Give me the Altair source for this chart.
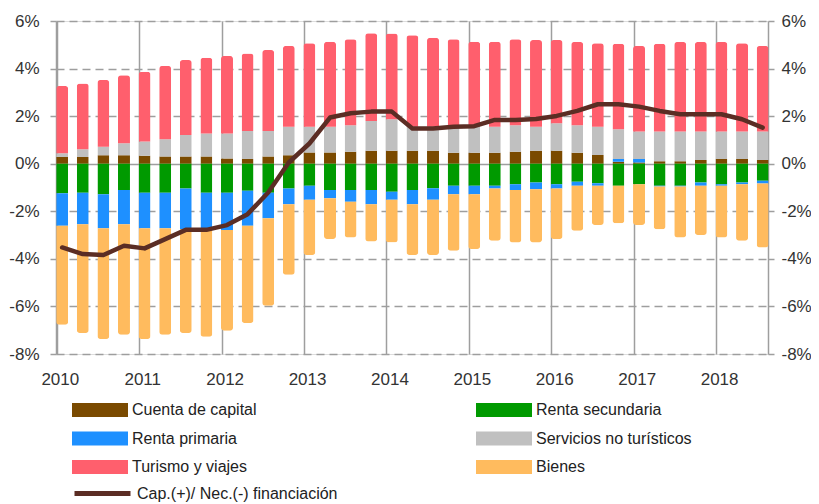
import altair as alt
import pandas as pd

# ---- data (percent of GDP), quarterly 2010T1 .. 2018T3 ----
anios = list(range(2010, 2019))
trimestres = [1, 2, 3, 4]

cuenta_capital = [0.28, 0.28, 0.36, 0.36, 0.33, 0.30, 0.30, 0.30, 0.22, 0.20, 0.30, 0.36,
                  0.47, 0.47, 0.50, 0.54, 0.54, 0.54, 0.54, 0.46, 0.46, 0.46, 0.50, 0.54,
                  0.54, 0.46, 0.37, 0.08, 0.05, 0.10, 0.10, 0.16, 0.20, 0.20, 0.16]
renta_secundaria = [-1.24, -1.22, -1.28, -1.11, -1.22, -1.22, -1.04, -1.22, -1.22, -1.14, -1.22, -1.04,
                    -0.93, -1.11, -1.11, -1.11, -1.18, -1.11, -1.03, -0.93, -0.93, -0.93, -0.86, -0.79,
                    -0.86, -0.76, -0.82, -0.93, -0.86, -0.93, -0.93, -0.79, -0.86, -0.79, -0.72]
renta_primaria = [-1.37, -1.32, -1.43, -1.43, -1.49, -1.49, -1.71, -1.53, -1.57, -1.47, -1.07, -0.66,
                  -0.59, -0.34, -0.49, -0.59, -0.34, -0.59, -0.49, -0.35, -0.35, -0.11, -0.25, -0.28,
                  -0.18, -0.17, -0.11, 0.12, 0.15, -0.03, -0.03, -0.14, -0.07, -0.07, -0.11]
servicios = [0.16, 0.33, 0.35, 0.50, 0.60, 0.73, 0.91, 0.97, 1.05, 1.18, 1.08, 1.19,
             1.08, 1.08, 1.12, 1.26, 1.33, 1.01, 1.01, 1.09, 1.09, 1.09, 1.12, 1.01,
             1.16, 1.16, 1.18, 1.25, 1.15, 1.25, 1.25, 1.19, 1.15, 1.15, 1.19]
turismo = [2.83, 2.76, 2.81, 2.86, 2.94, 3.08, 3.15, 3.19, 3.26, 3.25, 3.40, 3.40,
           3.51, 3.58, 3.61, 3.68, 3.60, 3.85, 3.75, 3.68, 3.58, 3.58, 3.61, 3.65,
           3.50, 3.50, 3.51, 3.59, 3.60, 3.69, 3.77, 3.77, 3.77, 3.71, 3.60]
bienes = [-4.16, -4.58, -4.66, -4.65, -4.66, -4.48, -4.37, -4.53, -4.23, -4.09, -3.68, -2.97,
          -2.32, -1.72, -1.50, -1.57, -1.79, -2.14, -2.32, -2.38, -2.31, -2.20, -2.20, -2.24,
          -2.13, -1.89, -1.65, -1.57, -1.72, -1.79, -2.14, -2.07, -2.17, -2.38, -2.69]
financiacion = [-3.52, -3.80, -3.84, -3.45, -3.56, -3.17, -2.78, -2.78, -2.58, -2.12, -1.21, 0.05,
                0.85, 1.94, 2.12, 2.19, 2.19, 1.48, 1.48, 1.55, 1.58, 1.84, 1.84, 1.88,
                2.01, 2.22, 2.50, 2.50, 2.40, 2.22, 2.08, 2.08, 2.08, 1.87, 1.52]

series = ["Cuenta de capital", "Renta secundaria", "Renta primaria",
          "Servicios no turísticos", "Turismo y viajes", "Bienes"]
colores = ["#7A4A00", "#009A00", "#1E90FF", "#C0C0C0", "#FF5F6D", "#FFBB5E"]
linea_nombre = "Cap.(+)/ Nec.(-) financiación"
linea_color = "#5B2D24"
y_ticks = [-8, -6, -4, -2, 0, 2, 4, 6]

# ---- build tables ----
periodos = [(a, t) for a in anios for t in trimestres][:len(financiacion)]
xpos = [a + (t - 1) * 0.25 + 0.065 for a, t in periodos]
valores = [cuenta_capital, renta_secundaria, renta_primaria, servicios, turismo, bienes]

rows = []
for i, x in enumerate(xpos):
    for k, (nombre, arr) in enumerate(zip(series, valores)):
        rows.append({"x": x, "serie": nombre, "valor": arr[i], "orden": k})
df = pd.DataFrame(rows)
df_line = pd.DataFrame({"x": xpos, "cap": financiacion, "serie": linea_nombre})

FONT = "Liberation Sans"
GRID = "#9E9E9E"
W, H = 712, 333

xscale = alt.Scale(domain=[2009.99, 2018.63], nice=False, zero=False, padding=0, range=[0, W])
yscale = alt.Scale(domain=[-8, 6], nice=False)

bars = alt.Chart(df).mark_bar(width=12, cornerRadius=3).encode(
    x=alt.X("x:Q", scale=xscale,
            axis=alt.Axis(values=anios, format="d", title=None, grid=True,
                          gridColor=GRID, gridWidth=1.5, ticks=False, domain=False,
                          labelFlush=False, labelOffset=3,
                          labelPadding=17, labelFontSize=17, labelColor="#333333",
                          labelFont=FONT)),
    y=alt.Y("valor:Q", stack="zero", scale=yscale,
            axis=alt.Axis(orient="left", values=y_ticks, labelExpr="datum.value + '%'",
                          title=None, grid=True, gridColor=GRID, gridWidth=1.5,
                          gridDash=alt.condition("datum.value === 0", alt.value([1, 0]), alt.value([8, 5])),
                          domainColor=GRID, domainWidth=1.5, tickColor=GRID, tickWidth=1.5,
                          tickSize=6, labelPadding=11, labelFontSize=17, labelColor="#333333",
                          labelFont=FONT)),
    color=alt.Color("serie:N", scale=alt.Scale(domain=series, range=colores),
                    legend=alt.Legend(orient="none", legendX=30, legendY=375, columns=2,
                                      direction="horizontal",
                                      columnPadding=219, rowPadding=6.5, title=None, padding=0,
                                      symbolType="M-2,-0.5L2,-0.5L2,0.5L-2,0.5Z",
                                      symbolSize=784, symbolStrokeWidth=0, symbolOpacity=1,
                                      labelOffset=18, labelFontSize=16, labelColor="#222222",
                                      labelFont=FONT, labelLimit=300)),
    order=alt.Order("orden:Q"),
)

line = alt.Chart(df_line).mark_line(strokeWidth=4.5, strokeCap="round", strokeJoin="round").encode(
    x=alt.X("x:Q", scale=xscale),
    y=alt.Y("cap:Q", scale=yscale,
            axis=alt.Axis(orient="right", values=y_ticks, labelExpr="datum.value + '%'",
                          title=None, grid=False, domainColor=GRID, domainWidth=1.5,
                          tickColor=GRID, tickWidth=1.5, tickSize=6, labelPadding=7,
                          labelFontSize=17, labelColor="#333333", labelFont=FONT)),
    stroke=alt.Stroke("serie:N", scale=alt.Scale(domain=[linea_nombre], range=[linea_color]),
                      legend=alt.Legend(orient="none", legendX=16, legendY=442, title=None,
                                        padding=0, symbolType="stroke", symbolSize=3136,
                                        symbolStrokeWidth=5, labelOffset=4, labelFontSize=16,
                                        labelColor="#222222", labelFont=FONT, labelLimit=400)),
)

chart = alt.layer(bars, line).resolve_axis(y="independent").properties(
    width=W, height=H,
    autosize=alt.AutoSizeParams(type="none"),
    padding={"left": 48, "top": 13, "right": 43, "bottom": 150},
).configure_view(stroke=None).configure(font=FONT)

chart.save("out.html", embed_options={"renderer": "svg", "actions": False})
